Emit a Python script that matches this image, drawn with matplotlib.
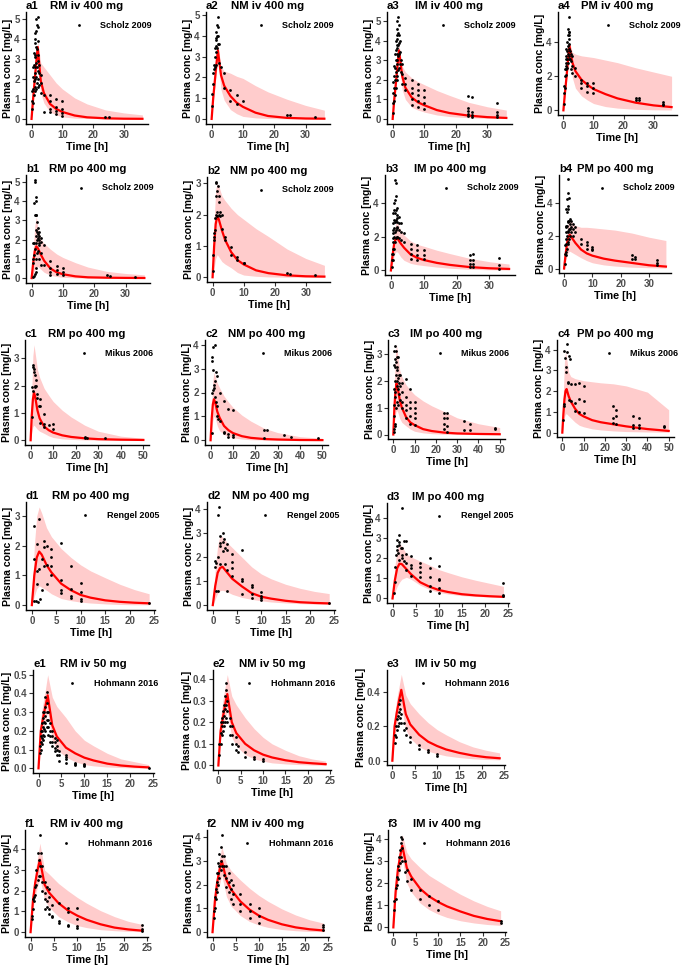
import matplotlib
matplotlib.use("Agg")
import matplotlib.pyplot as plt
from matplotlib import transforms
from matplotlib.ticker import MultipleLocator, FormatStrFormatter

# time grids of the simulated curves
T36 = [0, 0.5, 1, 1.5, 2, 3, 4, 6, 8, 10, 14, 18, 24, 30, 36]
T50 = [0, 0.5, 1, 1.5, 2, 3, 4, 6, 8, 10, 14, 18, 24, 30, 40, 50]
T24 = [0, 0.5, 1, 1.5, 2, 3, 4, 6, 8, 10, 12, 15, 18, 21, 24]

# ---- row a: iv 400 mg, Scholz 2009
a1_mid = [0, 1.0, 1.9, 2.8, 3.6, 1.9, 1.3, 0.75, 0.5, 0.35, 0.17, 0.08, 0.03, 0.01, 0.005]
a1_hi = [0, 1.3, 2.3, 3.2, 3.9, 2.8, 2.6, 2.2, 1.8, 1.5, 1.05, 0.75, 0.45, 0.3, 0.2]
a1_lo = [0, 0.7, 1.5, 2.3, 3.1, 1.3, 0.8, 0.35, 0.2, 0.1, 0.04, 0.02, 0.005, 0, 0]
a1_obs = {0.25: [0.5, 0.9, 1.4], 0.5: [0.8, 1.5, 2.1, 2.6], 0.75: [1.2, 1.9, 2.7, 3.3],
          1: [1.4, 2.0, 2.6, 3.2, 3.8, 4.3], 1.25: [1.6, 2.3, 3.1, 4.0],
          1.5: [1.5, 2.1, 2.8, 3.6, 4.4, 5.0], 1.75: [1.8, 2.6, 3.5, 4.7],
          2: [1.6, 2.4, 3.2, 3.9, 4.6, 5.1], 2.25: [2.0, 2.9], 2.5: [1.7, 2.3, 2.7],
          3: [1.3, 1.8, 2.2], 4: [1.2, 0.35], 6: [1.2, 0.9, 0.5, 0.35], 8: [1.0, 0.6, 0.4, 0.25],
          10: [0.9, 0.5, 0.3, 0.15], 24: [0.1], 25: [0.1]}

a2_mid = [0, 1.0, 1.8, 2.6, 3.3, 2.1, 1.6, 1.1, 0.78, 0.58, 0.3, 0.14, 0.05, 0.02, 0.01]
a2_hi = [0, 1.2, 2.1, 3.0, 3.6, 2.5, 2.3, 2.2, 2.05, 1.95, 1.6, 1.3, 0.95, 0.65, 0.42]
a2_lo = [0, 0.8, 1.5, 2.2, 2.9, 1.4, 0.9, 0.45, 0.25, 0.12, 0.05, 0.02, 0, 0, 0]
a2_obs = {0.25: [0.6, 1.2], 0.5: [1.7, 2.2], 0.75: [2.4, 2.6], 1: [2.5, 3.0, 3.4],
          1.25: [2.6, 3.5, 3.9], 1.5: [3.2, 3.8, 4.2], 1.75: [3.4, 4.0, 4.5],
          2: [3.6, 4.0, 4.4, 4.9], 2.5: [3.6, 2.7], 3: [2.5], 4: [2.2, 1.5], 6: [1.4, 0.85],
          8: [1.15, 0.7], 10: [0.85], 24: [0.2], 25: [0.18], 33: [0.08]}

a3_mid = [0, 1.0, 1.8, 2.7, 3.5, 2.2, 1.6, 1.1, 0.85, 0.7, 0.45, 0.3, 0.17, 0.09, 0.05]
a3_hi = [0, 1.2, 2.1, 3.1, 3.8, 2.7, 2.4, 2.1, 1.9, 1.75, 1.45, 1.2, 0.85, 0.62, 0.45]
a3_lo = [0, 0.8, 1.5, 2.3, 3.1, 1.5, 1.0, 0.6, 0.45, 0.35, 0.2, 0.12, 0.06, 0.03, 0.02]
a3_obs = {0.25: [0.3, 0.8, 1.3, 1.9], 0.5: [0.9, 1.6, 2.2, 2.7], 0.75: [1.2, 2.0, 2.6, 3.3],
          1: [1.6, 2.4, 3.0, 3.5, 4.0], 1.25: [2.0, 2.8, 3.3, 3.8, 4.3],
          1.5: [2.2, 3.0, 3.6, 4.1, 4.6, 5.0], 1.75: [2.5, 3.2, 3.8, 4.4, 5.2],
          2: [2.6, 3.3, 3.9, 4.3, 4.8], 2.25: [2.8, 3.4, 4.0], 2.5: [2.4, 3.0],
          3: [1.8, 2.3, 2.8], 4: [1.5, 1.8, 2.1], 6: [0.7, 1.0, 1.3, 1.6, 2.0],
          8: [0.6, 0.9, 1.2, 1.5, 1.8], 10: [0.5, 0.8, 1.1, 1.5],
          24: [0.15, 0.25, 0.4, 0.55, 1.15], 25: [0.1, 0.2, 0.35, 1.1], 33: [0.1, 0.2, 0.35, 0.8]}

a4_mid = [0, 1.0, 1.9, 2.9, 3.8, 2.8, 2.3, 1.8, 1.5, 1.25, 0.95, 0.7, 0.45, 0.29, 0.19]
a4_hi = [0, 1.2, 2.2, 3.2, 4.0, 3.4, 3.3, 3.2, 3.15, 3.1, 2.95, 2.8, 2.5, 2.25, 2.0]
a4_lo = [0, 0.8, 1.6, 2.5, 3.4, 1.9, 1.3, 0.85, 0.6, 0.4, 0.22, 0.13, 0.06, 0.03, 0.02]
a4_obs = {0.25: [0.4, 1.0, 1.4], 0.5: [1.3, 2.0, 2.4], 0.75: [2.1, 2.6, 3.0],
          1: [2.4, 2.8, 3.2, 3.6], 1.25: [2.5, 3.0, 3.5, 4.0], 1.5: [2.8, 3.3, 3.8, 4.4, 4.8],
          1.75: [3.0, 3.6, 4.2, 4.6, 5.5], 2: [3.2, 3.9, 4.4, 4.6], 2.25: [3.0, 3.5],
          2.5: [2.4, 2.9, 3.3], 3: [2.2, 2.6, 3.2], 4: [2.0, 2.5], 6: [1.3, 1.6, 1.8],
          8: [1.1, 1.4, 1.6], 10: [1.0, 1.3, 1.6], 24: [0.6, 0.7], 25: [0.6, 0.7], 33: [0.3, 0.4, 0.5]}

# ---- row b: po 400 mg, Scholz 2009
b1_mid = [0, 0.8, 1.4, 1.65, 1.55, 1.2, 0.9, 0.5, 0.3, 0.2, 0.09, 0.04, 0.02, 0.01, 0.005]
b1_hi = [0, 1.5, 2.7, 3.2, 2.6, 2.0, 1.8, 1.5, 1.25, 1.07, 0.8, 0.57, 0.35, 0.24, 0.17]
b1_lo = [0, 0.2, 0.45, 0.6, 0.6, 0.45, 0.3, 0.15, 0.08, 0.04, 0.01, 0, 0, 0, 0]
b1_obs = {0.5: [0.05, 0.8, 1.0, 1.8], 0.75: [0.1, 1.2, 1.8, 3.9], 1: [0.2, 1.5, 3.3, 5.0, 5.1],
          1.25: [0.3, 1.0, 2.2, 3.3, 4.2], 1.5: [0.5, 1.8, 2.5, 3.3, 4.0], 1.75: [1.3, 2.0, 2.4, 2.9],
          2: [1.4, 2.1, 2.3, 2.6], 2.25: [1.7, 2.0, 2.4], 2.5: [1.0, 1.8, 2.2],
          3: [0.7, 1.3, 1.9, 2.1], 4: [0.7, 1.7], 6: [0.15, 0.3, 0.5, 0.9], 8: [0.2, 0.4, 0.65],
          10: [0.15, 0.3, 0.55], 24: [0.15], 25: [0.12], 33: [0.07]}

b2_mid = [0, 1.0, 1.7, 1.95, 1.85, 1.5, 1.2, 0.8, 0.55, 0.41, 0.22, 0.13, 0.06, 0.03, 0.02]
b2_hi = [0, 1.8, 2.8, 3.0, 2.9, 2.6, 2.45, 2.2, 2.0, 1.85, 1.55, 1.3, 0.9, 0.6, 0.38]
b2_lo = [0, 0.3, 0.6, 0.72, 0.65, 0.5, 0.42, 0.3, 0.15, 0.07, 0.03, 0.01, 0, 0, 0]
b2_obs = {0.25: [0.2, 0.7], 0.5: [1.2, 1.3, 1.4], 0.75: [1.5, 1.9], 1: [2.0, 2.6, 3.0],
          1.25: [3.05], 1.5: [1.95, 2.1, 2.75], 1.75: [2.9], 2: [2.0, 2.4, 2.6],
          2.5: [1.95, 2.1], 3: [1.55, 2.0], 4: [1.2, 1.3], 6: [0.72, 0.98], 8: [0.55, 0.65],
          10: [0.45, 0.47], 24: [0.12], 25: [0.1], 33: [0.06]}

b3_mid = [0, 0.9, 1.6, 1.9, 1.9, 1.6, 1.35, 0.95, 0.75, 0.62, 0.45, 0.33, 0.2, 0.13, 0.09]
b3_hi = [0, 1.3, 2.3, 2.8, 2.8, 2.4, 2.1, 1.75, 1.55, 1.44, 1.2, 1.0, 0.72, 0.52, 0.38]
b3_lo = [0, 0.4, 0.9, 1.1, 1.1, 0.8, 0.6, 0.42, 0.34, 0.29, 0.2, 0.13, 0.07, 0.04, 0.03]
b3_obs = {0.25: [0.2, 0.6, 1.0], 0.5: [0.6, 1.3, 1.9, 2.4], 0.75: [1.0, 1.7, 2.2, 2.8, 3.4],
          1: [1.3, 2.0, 2.5, 3.0, 3.6, 4.0], 1.25: [1.7, 2.3, 2.9, 3.4, 4.2, 5.4],
          1.5: [1.9, 2.4, 3.0, 3.6, 4.4, 5.2], 1.75: [2.0, 2.6, 3.1, 3.7], 2: [2.0, 2.5, 2.9, 3.3],
          2.5: [1.9, 2.4, 2.8, 3.2], 3: [1.8, 2.3, 2.8], 4: [1.7, 2.2], 6: [0.7, 1.0, 1.3, 1.6],
          8: [0.6, 0.9, 1.2, 1.5], 10: [0.7, 0.9, 1.2], 24: [0.2, 0.4, 0.6, 0.9],
          25: [0.2, 0.4, 0.6, 1.0], 33: [0.1, 0.35, 0.75]}

b4_mid = [0, 0.8, 1.5, 1.9, 2.05, 1.8, 1.55, 1.15, 0.92, 0.78, 0.6, 0.48, 0.34, 0.2, 0.12]
b4_hi = [0, 1.2, 2.3, 2.9, 3.0, 2.8, 2.6, 2.5, 2.5, 2.47, 2.4, 2.33, 2.15, 1.9, 1.7]
b4_lo = [0, 0.4, 0.8, 1.0, 1.05, 0.95, 0.85, 0.65, 0.48, 0.35, 0.22, 0.15, 0.08, 0.05, 0.03]
b4_obs = {0.25: [0.3, 0.9, 1.4], 0.5: [0.8, 1.5, 2.2, 2.6], 0.75: [1.0, 1.8, 2.5, 3.6],
          1: [1.2, 2.0, 2.6, 3.4, 4.2], 1.25: [1.5, 2.2, 2.8, 3.6, 4.6],
          1.5: [1.6, 2.3, 2.9, 3.8, 5.4], 1.75: [1.8, 2.4, 2.9, 4.3], 2: [2.0, 2.4, 2.7, 3.0],
          2.5: [2.2, 2.5, 2.9], 3: [2.0, 2.4, 2.7], 4: [2.2, 2.5], 6: [1.5, 1.8],
          8: [1.2, 1.4, 1.6], 10: [1.1, 1.2, 1.3], 24: [0.6, 0.8], 25: [0.6, 0.7], 33: [0.2, 0.35, 0.5]}

# ---- row c: po 400 mg, Mikus 2006
c1_mid = [0, 0.9, 1.5, 1.75, 1.6, 1.1, 0.8, 0.5, 0.37, 0.28, 0.18, 0.12, 0.07, 0.04, 0.02, 0.01]
c1_hi = [0, 1.8, 3.1, 3.5, 3.2, 2.6, 2.3, 1.9, 1.65, 1.42, 1.1, 0.85, 0.55, 0.33, 0.15, 0.07]
c1_lo = [0, 0.3, 0.5, 0.55, 0.5, 0.4, 0.33, 0.25, 0.16, 0.1, 0.05, 0.03, 0.01, 0, 0, 0]
c1_obs = {0.5: [0.85], 0.75: [1.95], 1: [1.8, 2.7], 1.25: [2.75], 1.5: [2.5, 2.6], 1.75: [2.4],
          2: [1.95, 2.0], 2.25: [2.2], 2.5: [2.0], 3: [1.55, 1.7], 3.5: [1.25],
          4: [0.65, 1.25, 1.5], 6: [0.5, 0.6, 0.95], 8: [0.55], 10: [0.4, 0.6],
          24: [0.1, 0.12], 25: [0.1], 33: [0.07]}

c2_mid = [0, 0.9, 1.5, 1.72, 1.6, 1.2, 0.95, 0.6, 0.42, 0.3, 0.17, 0.1, 0.05, 0.03, 0.01, 0.005]
c2_hi = [0, 1.5, 2.5, 2.85, 2.7, 2.4, 2.2, 1.85, 1.6, 1.38, 1.05, 0.8, 0.5, 0.32, 0.15, 0.08]
c2_lo = [0, 0.4, 0.8, 1.0, 0.95, 0.6, 0.4, 0.25, 0.15, 0.1, 0.05, 0.02, 0.01, 0, 0, 0]
c2_obs = {0.5: [0.3, 2.0], 0.75: [3.3, 3.5], 1: [2.95, 3.9], 1.25: [2.1], 1.5: [2.2, 2.3],
          1.75: [2.5], 2: [1.8, 4.0], 2.5: [1.6, 2.85], 2.75: [2.7], 3: [1.0, 1.45], 3.5: [0.9],
          4: [0.8, 2.0], 6: [0.3, 0.35, 1.65], 8: [0.15, 0.25, 1.3], 10: [0.12, 0.2, 1.25],
          24: [0.1, 0.42], 25: [0.42], 33: [0.2], 36: [0.15], 48: [0.08]}

c3_mid = [0, 1.0, 1.6, 1.9, 1.75, 1.3, 1.0, 0.65, 0.45, 0.35, 0.2, 0.13, 0.07, 0.04, 0.02, 0.01]
c3_hi = [0, 1.9, 3.0, 3.35, 3.0, 2.4, 2.15, 1.85, 1.65, 1.48, 1.25, 1.07, 0.85, 0.62, 0.4, 0.26]
c3_lo = [0, 0.4, 0.75, 0.9, 0.85, 0.6, 0.45, 0.32, 0.2, 0.12, 0.06, 0.03, 0.01, 0, 0, 0]
c3_obs = {0.25: [0.1, 0.7, 1.7], 0.5: [0.2, 1.1, 2.6, 3.1], 0.75: [0.4, 1.6, 2.8],
          1: [0.3, 1.4, 2.0, 2.5, 3.3], 1.25: [1.0, 2.2, 2.7, 3.1], 1.5: [1.8, 2.4, 2.9],
          1.75: [1.2, 2.0, 2.5], 2: [1.1, 1.7, 2.1, 2.9], 2.5: [1.5, 1.9, 2.2], 3: [1.3, 1.8, 2.2],
          4: [1.0, 1.2, 1.6, 1.9], 6: [0.6, 0.9, 1.1, 1.4, 2.05], 8: [0.4, 0.7, 1.0, 1.2, 1.7],
          10: [0.35, 0.6, 0.8, 1.0, 1.2], 24: [0.2, 0.4, 0.6, 0.8], 25: [0.1, 0.3, 0.6, 0.8],
          33: [0.15, 0.5], 36: [0.15, 0.4], 48: [0.2, 0.25]}

c4_mid = [0, 0.9, 1.6, 2.0, 2.1, 1.75, 1.5, 1.15, 0.9, 0.78, 0.6, 0.5, 0.4, 0.3, 0.17, 0.08]
c4_hi = [0, 2.0, 3.4, 3.9, 3.6, 2.9, 2.7, 2.6, 2.55, 2.5, 2.45, 2.4, 2.35, 2.25, 1.95, 1.1]
c4_lo = [0, 0.4, 0.75, 0.9, 0.9, 0.8, 0.7, 0.5, 0.35, 0.28, 0.18, 0.13, 0.08, 0.05, 0.03, 0.02]
c4_obs = {0.5: [0.6], 0.75: [1.4], 1: [1.3, 3.95], 1.25: [3.6], 1.5: [3.15], 1.75: [2.9],
          2: [3.9, 4.25], 2.5: [2.4, 2.45], 3: [1.55, 3.7], 3.5: [3.55], 4: [1.5, 2.35],
          6: [1.05, 1.45, 2.35], 8: [1.0, 1.6, 2.4], 10: [0.95, 1.5, 2.25], 24: [0.45, 0.7, 1.3],
          25: [0.4, 0.8, 1.1], 33: [0.2, 0.35, 0.82], 36: [0.2, 0.35, 0.7], 48: [0.25, 0.3]}

# ---- row d: po 400 mg, Rengel 2005
d1_mid = [0, 1.0, 1.6, 1.8, 1.7, 1.35, 1.1, 0.72, 0.5, 0.34, 0.25, 0.16, 0.11, 0.08, 0.06]
d1_hi = [0, 2.0, 3.0, 3.3, 3.1, 2.6, 2.3, 1.9, 1.6, 1.35, 1.15, 0.92, 0.7, 0.52, 0.38]
d1_lo = [0, 0.3, 0.55, 0.65, 0.6, 0.5, 0.38, 0.22, 0.15, 0.1, 0.07, 0.04, 0.02, 0.01, 0.01]
d1_obs = {0.5: [0.15, 1.55, 2.65], 0.75: [0.15], 1: [0.7, 1.15, 2.05], 1.25: [0.1],
          1.5: [1.2, 2.9], 1.75: [0.2], 2: [0.5, 1.55], 2.5: [1.3, 1.95, 2.15], 3: [0.7, 1.35, 2.0],
          4: [1.0, 1.3, 1.6, 1.9], 6: [0.4, 0.5, 0.85, 2.1], 8: [0.25, 0.3, 0.55, 1.3],
          10: [0.15, 0.2, 0.45, 0.75], 24: [0.08]}

d2_mid = [0, 0.8, 1.35, 1.55, 1.6, 1.35, 1.1, 0.78, 0.5, 0.35, 0.27, 0.18, 0.12, 0.09, 0.07]
d2_hi = [0, 1.5, 2.5, 2.9, 2.85, 2.6, 2.4, 2.0, 1.6, 1.3, 1.1, 0.87, 0.7, 0.57, 0.48]
d2_lo = [0, 0.25, 0.5, 0.6, 0.62, 0.55, 0.45, 0.32, 0.24, 0.18, 0.13, 0.09, 0.06, 0.04, 0.03]
d2_obs = {0.5: [1.6, 1.85], 0.75: [0.6, 1.75], 1: [0.6, 2.0, 3.75], 1.25: [4.1],
          1.5: [1.7, 2.45, 2.6, 2.9], 2: [2.25, 2.65, 3.0], 2.25: [2.75], 2.5: [1.7, 2.4],
          3: [0.6, 1.45, 2.3, 2.55], 4: [1.2, 1.55, 1.8, 2.15], 6: [0.45, 1.0, 1.1, 2.3],
          8: [0.3, 0.45, 0.75, 0.85], 10: [0.22, 0.3, 0.4, 0.55], 24: [0.08]}

d3_mid = [0, 0.9, 1.5, 1.72, 1.7, 1.45, 1.2, 0.8, 0.58, 0.42, 0.32, 0.21, 0.15, 0.11, 0.08]
d3_hi = [0, 1.6, 2.4, 2.7, 2.6, 2.2, 2.05, 1.85, 1.65, 1.43, 1.28, 1.07, 0.9, 0.75, 0.6]
d3_lo = [0, 0.3, 0.6, 0.8, 0.95, 1.05, 0.95, 0.65, 0.45, 0.3, 0.22, 0.14, 0.1, 0.07, 0.05]
d3_obs = {0.25: [0.25], 0.5: [0.8, 1.55], 0.75: [2.15], 1: [2.4, 2.6, 2.9], 1.25: [2.25],
          1.5: [1.9, 2.65, 2.8, 3.15], 1.75: [2.5], 2: [2.0, 2.15, 2.5, 4.5], 2.5: [1.85, 2.85],
          3: [1.4, 1.75, 2.2, 2.85], 4: [1.1, 1.5, 1.65, 2.1], 6: [1.05, 1.3, 1.55, 1.75],
          8: [0.35, 0.6, 1.05, 1.5, 2.0], 10: [0.25, 0.5, 0.9, 0.95, 1.6], 24: [0.1, 0.15, 0.75]}

# ---- row e: iv 50 mg, Hohmann 2016
e1_mid = [0, 0.2, 0.27, 0.33, 0.39, 0.23, 0.17, 0.11, 0.08, 0.057, 0.042, 0.025, 0.015, 0.009, 0.005]
e1_hi = [0, 0.27, 0.35, 0.42, 0.5, 0.38, 0.33, 0.27, 0.2, 0.15, 0.12, 0.08, 0.05, 0.035, 0.02]
e1_lo = [0, 0.15, 0.2, 0.25, 0.3, 0.15, 0.1, 0.06, 0.035, 0.02, 0.013, 0.007, 0.004, 0.002, 0.001]
e1_obs = {0.25: [0.08, 0.12], 0.5: [0.1, 0.14, 0.17, 0.2], 0.75: [0.13, 0.16, 0.2, 0.24],
          1: [0.15, 0.18, 0.22, 0.27, 0.3], 1.25: [0.17, 0.21, 0.25, 0.3],
          1.5: [0.2, 0.24, 0.28, 0.33, 0.38], 1.75: [0.22, 0.26, 0.3, 0.35, 0.41],
          2: [0.18, 0.22, 0.26, 0.3], 2.5: [0.14, 0.17, 0.2, 0.24], 3: [0.12, 0.14, 0.17, 0.2],
          3.5: [0.09, 0.11, 0.14, 0.16], 4: [0.07, 0.1, 0.12, 0.15], 4.5: [0.04, 0.07, 0.09],
          6: [0.03, 0.05, 0.06, 0.07], 8: [0.02, 0.025, 0.03], 10: [0.013, 0.018, 0.022], 24: [0.003]}

e2_mid = [0, 0.16, 0.22, 0.28, 0.33, 0.2, 0.15, 0.1, 0.07, 0.05, 0.037, 0.024, 0.015, 0.01, 0.006]
e2_hi = [0, 0.22, 0.3, 0.36, 0.42, 0.32, 0.28, 0.22, 0.17, 0.13, 0.1, 0.07, 0.045, 0.03, 0.02]
e2_lo = [0, 0.12, 0.17, 0.21, 0.25, 0.13, 0.09, 0.05, 0.03, 0.02, 0.012, 0.007, 0.004, 0.002, 0.001]
e2_obs = {0.25: [0.05, 0.1], 0.5: [0.1, 0.15, 0.2], 0.75: [0.14, 0.18, 0.22], 1: [0.16, 0.2, 0.25],
          1.25: [0.18, 0.23, 0.28], 1.5: [0.2, 0.26, 0.32], 1.75: [0.22, 0.28, 0.35, 0.38],
          2: [0.2, 0.25, 0.3], 2.5: [0.14, 0.18, 0.22], 3: [0.1, 0.14, 0.18], 4: [0.07, 0.1, 0.13],
          4.5: [0.06, 0.09], 6: [0.04, 0.06], 8: [0.03, 0.04], 10: [0.02, 0.03]}

e3_mid = [0, 0.2, 0.28, 0.35, 0.41, 0.27, 0.21, 0.15, 0.11, 0.085, 0.065, 0.045, 0.03, 0.02, 0.014]
e3_hi = [0, 0.26, 0.36, 0.43, 0.5, 0.38, 0.33, 0.27, 0.22, 0.18, 0.15, 0.11, 0.08, 0.06, 0.045]
e3_lo = [0, 0.15, 0.21, 0.27, 0.32, 0.18, 0.13, 0.08, 0.055, 0.04, 0.028, 0.018, 0.011, 0.007, 0.005]
e3_obs = {0.5: [0.1, 0.15], 0.75: [0.14, 0.2], 1: [0.18, 0.24], 1.25: [0.2, 0.26],
          1.5: [0.22, 0.28, 0.33], 1.75: [0.25, 0.3, 0.35], 2: [0.22, 0.27], 2.5: [0.18, 0.22],
          3: [0.15, 0.19], 4: [0.11, 0.14], 6: [0.07, 0.09], 8: [0.05, 0.06], 10: [0.03, 0.04]}

# ---- row f: iv 400 mg, Hohmann 2016
f1_mid = [0, 1.5, 2.4, 3.0, 3.5, 2.3, 1.9, 1.4, 1.05, 0.8, 0.6, 0.38, 0.22, 0.13, 0.07]
f1_hi = [0, 1.9, 2.9, 3.6, 4.3, 3.0, 2.8, 2.35, 2.0, 1.68, 1.4, 1.04, 0.75, 0.52, 0.37]
f1_lo = [0, 1.1, 1.8, 2.2, 2.6, 1.55, 1.2, 0.75, 0.5, 0.32, 0.22, 0.12, 0.07, 0.04, 0.02]
f1_obs = {0.25: [0.65, 0.8], 0.5: [1.1, 1.6], 0.75: [1.5, 1.7], 1: [1.8, 2.2], 1.25: [2.3, 3.0],
          1.5: [2.5, 3.8], 1.75: [2.7, 3.5], 2: [2.7, 3.2, 4.7], 2.25: [3.8], 2.5: [2.0, 2.4, 3.2],
          3: [1.1, 1.6, 1.9, 2.4], 3.5: [1.2, 1.5, 2.2], 4: [0.9, 1.1, 1.7, 2.1],
          4.5: [0.75, 0.8, 1.3], 6: [0.45, 0.55, 1.4], 8: [0.3, 0.35, 0.95, 1.15],
          10: [0.2, 0.3, 0.65, 1.15], 24: [0.05, 0.15, 0.35]}

f2_mid = [0, 1.3, 2.1, 2.6, 3.0, 2.2, 1.8, 1.3, 0.95, 0.7, 0.52, 0.33, 0.2, 0.12, 0.07]
f2_hi = [0, 1.7, 2.6, 3.1, 3.6, 2.9, 2.6, 2.2, 1.85, 1.55, 1.3, 0.98, 0.72, 0.52, 0.38]
f2_lo = [0, 1.0, 1.6, 2.0, 2.4, 1.5, 1.1, 0.7, 0.45, 0.3, 0.2, 0.11, 0.06, 0.03, 0.02]
f2_obs = {0.25: [0.6, 0.9], 0.5: [1.0, 1.5], 0.75: [1.4, 1.8], 1: [1.7, 2.1, 2.5],
          1.25: [2.0, 2.5, 2.9], 1.5: [2.3, 2.8, 3.3], 1.75: [2.6, 3.0, 3.6], 2: [2.8, 3.2, 4.1],
          2.5: [2.4, 2.8, 3.2], 3: [1.9, 2.3, 2.8], 3.5: [1.7, 2.1, 2.5], 4: [1.4, 1.8, 2.2],
          4.5: [1.2, 1.6, 2.0], 6: [0.9, 1.2, 1.6], 8: [0.6, 0.9, 1.2], 10: [0.4, 0.7, 1.0],
          24: [0.1, 0.2, 0.3]}

f3_mid = [0, 1.6, 2.6, 3.2, 3.7, 2.7, 2.3, 1.75, 1.4, 1.15, 0.95, 0.72, 0.52, 0.38, 0.28]
f3_hi = [0, 2.0, 3.1, 3.7, 4.2, 3.4, 3.1, 2.7, 2.35, 2.1, 1.85, 1.5, 1.2, 0.95, 0.75]
f3_lo = [0, 1.2, 2.0, 2.6, 3.1, 2.0, 1.6, 1.1, 0.8, 0.6, 0.45, 0.3, 0.2, 0.13, 0.09]
f3_obs = {0.25: [0.8, 1.2], 0.5: [1.3, 1.8], 0.75: [1.9, 2.3], 1: [2.2, 2.8], 1.25: [2.6, 3.2],
          1.5: [2.9, 3.5], 1.75: [3.2, 3.8, 4.1], 2: [3.0, 3.6, 4.0], 2.5: [2.5, 3.0],
          3: [2.1, 2.6], 4: [1.7, 2.2], 6: [1.3, 1.7], 8: [1.0, 1.4], 10: [0.8, 1.2], 24: [0.2, 0.3]}


plt.rcParams['font.family'] = ['Liberation Sans', 'DejaVu Sans']

W, H = 685, 966
fig = plt.figure(figsize=(W / 100, H / 100), dpi=100)


def draw(tag, title, ref, box, t, mid, lo, hi, obs, ystep, xstep):
    # box = left, top, width, bottom in pixels
    left, top, width, bottom = box
    ax = fig.add_axes([left / W, 1 - bottom / H, width / W, (bottom - top) / H])
    ax.fill_between(t, lo, hi, color="#FFCCCC", lw=0)
    ax.plot(t, mid, color="#FF0000", lw=1.6)
    ot = [k for k, v in obs.items() for _ in v]
    oc = [c for v in obs.values() for c in v]
    ax.scatter(ot, oc, s=4, color="black", lw=0, label=ref, zorder=3)

    for s in ["top", "right"]:
        ax.spines[s].set_visible(False)
    for s in ["left", "bottom"]:
        ax.spines[s].set_linewidth(1.0)
    ax.xaxis.set_major_locator(MultipleLocator(xstep))
    ax.yaxis.set_major_locator(MultipleLocator(ystep))
    ax.yaxis.set_major_formatter(FormatStrFormatter("%.1f" if ystep < 1 else "%g"))
    ax.tick_params(length=3, width=0.8, color="#333333", labelsize=7,
                   labelcolor="#4D4D4D", pad=1.5)
    for lab in ax.get_xticklabels() + ax.get_yticklabels():
        lab.set_fontweight("bold")

    ax.set_xlabel("Time [h]", fontsize=7.8, fontweight="bold", labelpad=1)
    ax.set_ylabel("Plasma conc [mg/L]", fontsize=7.6, fontweight="bold", labelpad=1)
    ax.set_title(title, fontsize=8.2, fontweight="bold", pad=2)
    ax.set_title(tag, loc="left", fontsize=8.2, fontweight="bold", pad=2)

    ax.legend(loc="center right", bbox_to_anchor=(1, 1),
              bbox_transform=transforms.offset_copy(ax.transAxes, fig=fig, x=4, y=-13, units="dots"),
              frameon=False, borderpad=0, borderaxespad=0, handlelength=1.5,
              handletextpad=1.6, scatterpoints=1, prop={"size": 6.5, "weight": "bold"})
    return ax


draw("a1", "RM iv 400 mg", "Scholz 2009", (26, 12, 122, 124), T36, a1_mid, a1_lo, a1_hi, a1_obs, 1, 10)
draw("a2", "NM iv 400 mg", "Scholz 2009", (206, 12, 124, 124), T36, a2_mid, a2_lo, a2_hi, a2_obs, 1, 10)
draw("a3", "IM iv 400 mg", "Scholz 2009", (387, 12, 125, 124), T36, a3_mid, a3_lo, a3_hi, a3_obs, 1, 10)
draw("a4", "PM iv 400 mg", "Scholz 2009", (558, 12, 119, 115), T36, a4_mid, a4_lo, a4_hi, a4_obs, 2, 10)

draw("b1", "RM po 400 mg", "Scholz 2009", (26, 175, 124, 283), T36, b1_mid, b1_lo, b1_hi, b1_obs, 1, 10)
draw("b2", "NM po 400 mg", "Scholz 2009", (207, 177, 123, 282), T36, b2_mid, b2_lo, b2_hi, b2_obs, 1, 10)
draw("b3", "IM po 400 mg", "Scholz 2009", (385, 175, 130, 275), T36, b3_mid, b3_lo, b3_hi, b3_obs, 2, 10)
draw("b4", "PM po 400 mg", "Scholz 2009", (559, 175, 112, 273), T36, b4_mid, b4_lo, b4_hi, b4_obs, 2, 10)

draw("c1", "RM po 400 mg", "Mikus 2006", (25, 340, 124, 445), T50, c1_mid, c1_lo, c1_hi, c1_obs, 1, 10)
draw("c2", "NM po 400 mg", "Mikus 2006", (205, 340, 123, 445), T50, c2_mid, c2_lo, c2_hi, c2_obs, 1, 10)
draw("c3", "IM po 400 mg", "Mikus 2006", (388, 340, 117, 439), T50, c3_mid, c3_lo, c3_hi, c3_obs, 1, 10)
draw("c4", "PM po 400 mg", "Mikus 2006", (557, 340, 117, 437), T50, c4_mid, c4_lo, c4_hi, c4_obs, 1, 10)

draw("d1", "RM po 400 mg", "Rengel 2005", (26, 502, 129, 610), T24, d1_mid, d1_lo, d1_hi, d1_obs, 1, 5)
draw("d2", "NM po 400 mg", "Rengel 2005", (207, 502, 128, 610), T24, d2_mid, d2_lo, d2_hi, d2_obs, 1, 5)
draw("d3", "IM po 400 mg", "Rengel 2005", (387, 503, 122, 603), T24, d3_mid, d3_lo, d3_hi, d3_obs, 1, 5)

draw("e1", "RM iv 50 mg", "Hohmann 2016", (33, 670, 121, 773), T24, e1_mid, e1_lo, e1_hi, e1_obs, 0.1, 5)
draw("e2", "NM iv 50 mg", "Hohmann 2016", (213, 670, 118, 770), T24, e2_mid, e2_lo, e2_hi, e2_obs, 0.1, 5)
draw("e3", "IM iv 50 mg", "Hohmann 2016", (387, 670, 118, 765), T24, e3_mid, e3_lo, e3_hi, e3_obs, 0.2, 5)

draw("f1", "RM iv 400 mg", "Hohmann 2016", (25, 830, 123, 937), T24, f1_mid, f1_lo, f1_hi, f1_obs, 1, 5)
draw("f2", "NM iv 400 mg", "Hohmann 2016", (207, 830, 122, 937), T24, f2_mid, f2_lo, f2_hi, f2_obs, 1, 5)
draw("f3", "IM iv 400 mg", "Hohmann 2016", (388, 830, 118, 932), T24, f3_mid, f3_lo, f3_hi, f3_obs, 1, 5)

fig.savefig("out.png", dpi=100)
plt.close(fig)
